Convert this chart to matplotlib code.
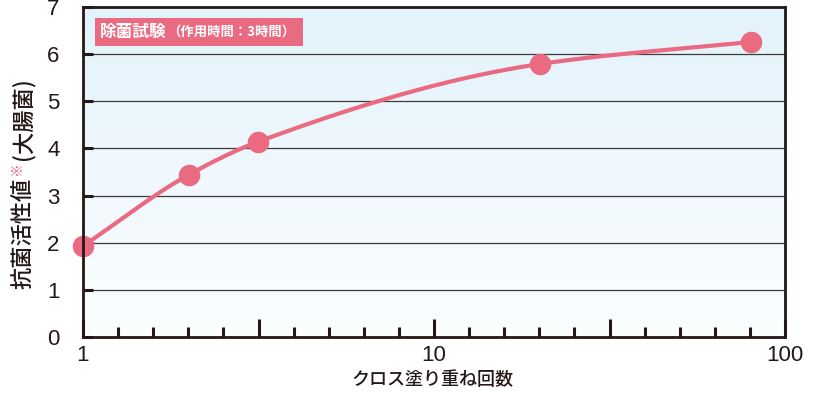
import numpy as np
import matplotlib
matplotlib.use("Agg")
import matplotlib.pyplot as plt
from matplotlib.patches import Rectangle

# ---- data ----
x_counts = [1, 2, 3.15, 20, 80]
activity = [1.93, 3.44, 4.14, 5.79, 6.26]
y_ticks = [0, 1, 2, 3, 4, 5, 6, 7]
x_tick_labels = ["1", "", "10", "", "100"]
title_main = "除菌試験"
title_sub = "（作用時間：3時間）"
ylabel_main = "抗菌活性値"
ylabel_mark = "※"
ylabel_sub = "(大腸菌)"
xlabel = "クロス塗り重ね回数"

PINK = "#ea6a81"
DARK = "#231815"
JP = ["Noto Sans CJK JP", "DejaVu Sans"]
NUM = ["Liberation Sans", "DejaVu Sans"]

W, H = 816, 394
fig = plt.figure(figsize=(W / 100, H / 100), dpi=100)
L, R, T, B = 83, 785, 7, 337
ax = fig.add_axes([L / W, 1 - B / H, (R - L) / W, (B - T) / H])
ax.set_xscale("log")
ax.set_xlim(1, 100)
ax.set_ylim(0, 7)

# gradient background
grad = np.linspace(0, 1, 256).reshape(-1, 1)
top = np.array([0.89, 0.95, 0.985])
bot = np.array([0.985, 0.995, 1.0])
img = top * (1 - grad[..., None]) + bot * grad[..., None]
img = img.reshape(256, 1, 3)
ax.imshow(img, extent=[0, 1, 0, 1], transform=ax.transAxes, aspect="auto", zorder=0)

# grid lines
for yv in y_ticks[1:-1]:
    ax.axhline(yv, color="#3c3c3c", lw=0.9, zorder=1)

# smooth monotone curve through the points (in log x)
lx = np.log10(np.array(x_counts, dtype=float))
yv = np.array(activity, dtype=float)
h = np.diff(lx)
d = np.diff(yv) / h
m = np.zeros_like(yv)
m[0], m[-1] = d[0], d[-1]
for i in range(1, len(yv) - 1):
    if d[i - 1] * d[i] > 0:
        w1 = 2 * h[i] + h[i - 1]
        w2 = h[i] + 2 * h[i - 1]
        m[i] = (w1 + w2) / (w1 / d[i - 1] + w2 / d[i])
xs, ys = [], []
for i in range(len(h)):
    t = np.linspace(0, 1, 60)
    h00 = 2 * t**3 - 3 * t**2 + 1
    h10 = t**3 - 2 * t**2 + t
    h01 = -2 * t**3 + 3 * t**2
    h11 = t**3 - t**2
    xs.append(lx[i] + t * h[i])
    ys.append(h00 * yv[i] + h10 * h[i] * m[i] + h01 * yv[i + 1] + h11 * h[i] * m[i + 1])
xs = 10 ** np.concatenate(xs)
ys = np.concatenate(ys)
ax.plot(xs, ys, color=PINK, lw=3.0, zorder=3, solid_capstyle="round")
ax.plot(x_counts, activity, "o", color=PINK, ms=15.5, mec="none", zorder=4, clip_on=False)

# spines
for s in ax.spines.values():
    s.set_color(DARK)
    s.set_linewidth(2.0)
    s.set_zorder(5)

# y ticks
ax.set_yticks(y_ticks)
ax.set_yticklabels([str(v) for v in y_ticks], fontsize=16, family=NUM, color=DARK)
ax.tick_params(axis="y", direction="in", length=7, width=2.2, color=DARK, pad=17)

# x ticks
major = [10 ** (k / 10) for k in (0, 5, 10, 15, 20)]
minor = [10 ** (k / 10) for k in range(1, 20) if k % 5 != 0]
ax.set_xticks(major)
ax.set_xticklabels(x_tick_labels, fontsize=16, family=NUM, color=DARK)
ax.set_xticks(minor, minor=True)
ax.xaxis.set_minor_formatter(matplotlib.ticker.NullFormatter())
ax.tick_params(axis="x", which="major", direction="in", length=13, width=2.2, color=DARK, pad=6)
ax.tick_params(axis="x", which="minor", direction="in", length=7, width=2.2, color=DARK)

# title box
bx0, by0, bx1, by1 = 95, 18, 303, 46
fig.patches.append(Rectangle((bx0 / W, 1 - by1 / H), (bx1 - bx0) / W, (by1 - by0) / H,
                             transform=fig.transFigure, facecolor=PINK, edgecolor="none", zorder=6))
fig.text(100 / W, 1 - 32 / H, title_main, family=JP, fontsize=12, fontweight="bold",
         color="white", va="center", ha="left", zorder=7)
fig.text(167 / W, 1 - 32 / H, title_sub, family=JP, fontsize=9.6, fontweight="bold",
         color="white", va="center", ha="left", zorder=7)

# y label
fig.text(23 / W, 1 - 289 / H, ylabel_main, family=JP, fontsize=16, fontweight="medium",
         color=DARK, rotation=90, ha="center", va="bottom")
fig.text(17 / W, 1 - 168 / H, ylabel_mark, family=JP, fontsize=10, color=PINK,
         rotation=90, ha="center", va="center")
fig.text(23 / W, 1 - 160 / H, ylabel_sub, family=JP, fontsize=16, fontweight="medium",
         color=DARK, rotation=90, ha="center", va="bottom")

# x label
fig.text(432 / W, 1 - 380 / H, xlabel, family=JP, fontsize=13, fontweight="medium",
         color=DARK, ha="center", va="center")

fig.savefig("out.png", dpi=100)
